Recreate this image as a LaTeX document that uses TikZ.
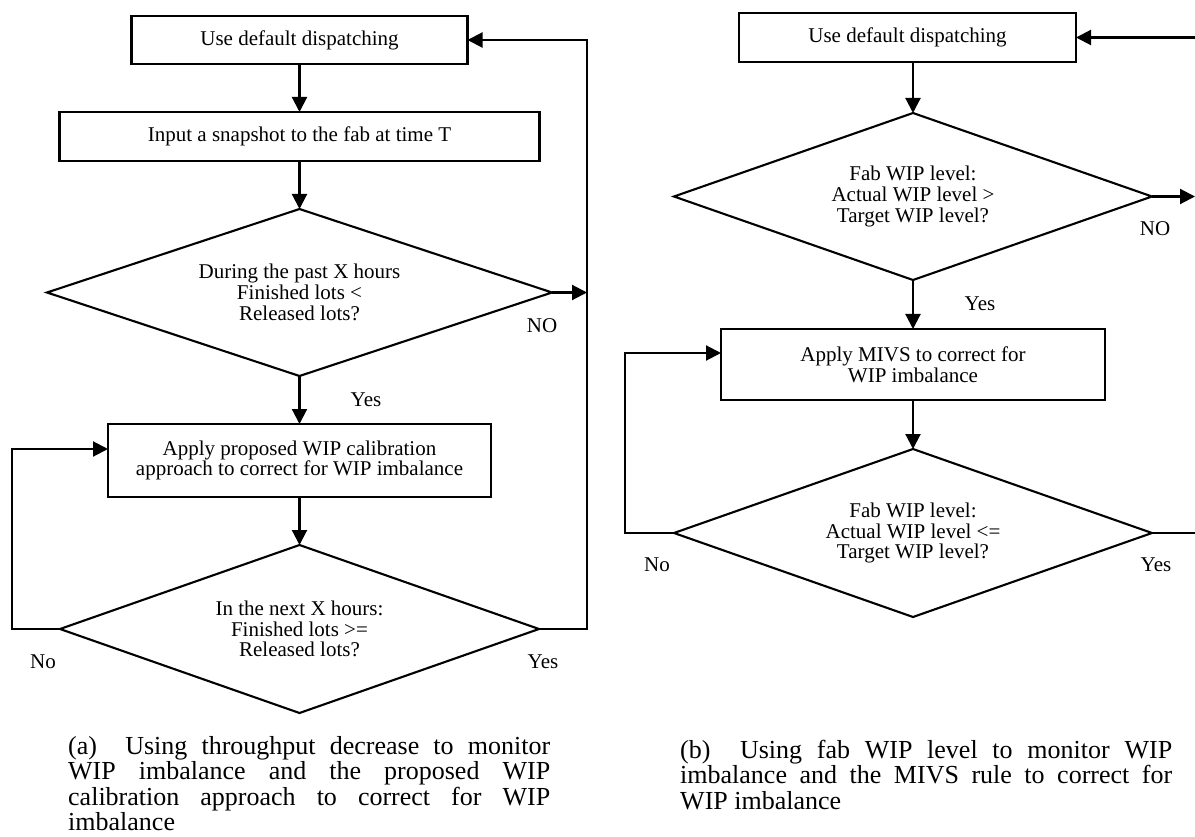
\documentclass[tikz,border=0pt]{standalone}
\usepackage{fontspec}
\setmainfont{Liberation Serif}
\usetikzlibrary{shapes.geometric,arrows.meta}

\begin{document}
\begin{tikzpicture}[x=1pt,y=-1pt,
  txt/.style={font=\fontsize{21}{20.7}\selectfont},
  flowbox/.style={txt, draw, line width=2.1pt, rectangle, inner sep=0pt, outer sep=0pt, align=center},
  decision/.style={txt, draw, line width=2.1pt, diamond, inner sep=0pt, outer sep=0pt, align=center},
  link/.style={line width=2.1pt, -{Triangle[length=15pt,width=15pt]}},
  wire/.style={line width=2.1pt},
  tag/.style={txt, inner sep=0pt},
  caption/.style={font=\fontsize{26}{25.4}\selectfont, inner sep=0pt, anchor=north west}]

\useasboundingbox (0,0) rectangle (1195,837);

% ---------- (a) throughput-based monitoring ----------
\node[flowbox, minimum width=336pt, minimum height=48pt] (a1) at (299.5,40) {Use default dispatching};
\node[flowbox, minimum width=480pt, minimum height=49pt] (a2) at (299.5,136.5) {Input a snapshot to the fab at time T};
\node[decision, minimum width=505pt, minimum height=167pt, aspect=3.02] (da1) at (299.5,292.5)
  {During the past X hours\\Finished lots <\\Released lots?};
\node[flowbox, minimum width=383pt, minimum height=73pt] (a3) at (299.5,460.5)
  {Apply proposed WIP calibration\\approach to correct for WIP imbalance};
\node[decision, minimum width=479pt, minimum height=168pt, aspect=2.85] (da2) at (299.5,629)
  {In the next X hours:\\Finished lots >=\\Released lots?};

\node[tag] (noa1)  at (542,326) {NO};
\node[tag] (yesa1) at (366,400) {Yes};
\node[tag] (noa2)  at (43,662)  {No};
\node[tag] (yesa2) at (543,662) {Yes};

\draw[link] (a1.south) -- (a2.north);
\draw[link] (a2.south) -- (da1.north);
\draw[link] (da1.south) -- (a3.north);
\draw[link] (a3.south) -- (da2.north);

\coordinate (ra-top) at (587,40);
\coordinate (ra-bot) at (587,629);
\draw[link] (da2.east) -- (ra-bot) -- (ra-top) -- (a1.east);
\draw[link] (da1.east) -- (da1.east -| ra-top);

\coordinate (la) at (12,449);
\draw[link] (da2.west) -| (la) -- (la -| a3.west);

% ---------- (b) fab WIP level monitoring ----------
\node[flowbox, minimum width=337pt, minimum height=49pt] (b1) at (907.5,37.5) {Use default dispatching};
\node[decision, minimum width=478pt, minimum height=167pt, aspect=2.86] (db1) at (913,196.5)
  {Fab WIP level:\\Actual WIP level >\\Target WIP level?};
\node[flowbox, minimum width=384pt, minimum height=71pt] (b2) at (913,364.5)
  {Apply MIVS to correct for\\WIP imbalance};
\node[decision, minimum width=478pt, minimum height=168pt, aspect=2.85] (db2) at (913,533)
  {Fab WIP level:\\Actual WIP level <=\\Target WIP level?};

\node[tag] (nob1)  at (1155,229) {NO};
\node[tag] (yesb1) at (980,304)  {Yes};
\node[tag] (nob2)  at (657,565)  {No};
\node[tag] (yesb2) at (1156,565) {Yes};

\coordinate (rb-top) at (1195,37.5);
\draw[link] (rb-top) -- (b1.east);
\draw[link] (b1.south -| db1.north) -- (db1.north);
\coordinate (rb-no) at (1195,196.5);
\draw[link] (db1.east) -- (rb-no);
\draw[link] (db1.south) -- (b2.north);
\draw[link] (b2.south) -- (db2.north);
\coordinate (lb) at (625,353);
\draw[link] (db2.west) -| (lb) -- (lb -| b2.west);
\coordinate (rb-yes) at (1195,533);
\draw[wire] (db2.east) -- (rb-yes);

% ---------- captions ----------
\node[caption] (capa) at (68,736) {\vbox{%
  \hbox to 482pt{(a)\ \ Using throughput decrease to monitor}%
  \hbox to 482pt{WIP imbalance and the proposed WIP}%
  \hbox to 482pt{calibration approach to correct for WIP}%
  \hbox{imbalance}}};
\node[caption] (capb) at (680,740) {\vbox{%
  \hbox to 492pt{(b)\ \ Using fab WIP level to monitor WIP}%
  \hbox to 492pt{imbalance and the MIVS rule to correct for}%
  \hbox{WIP imbalance}}};
\end{tikzpicture}
\end{document}
